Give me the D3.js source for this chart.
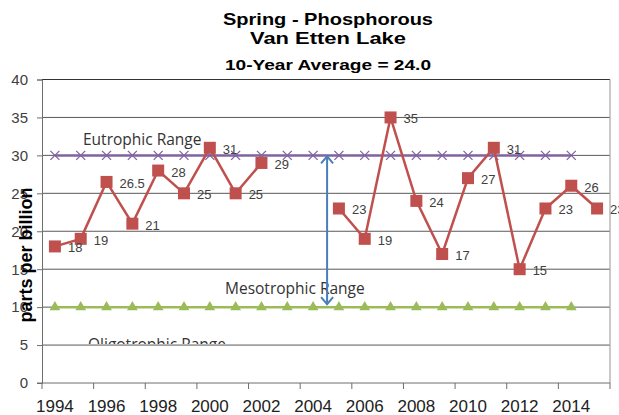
<!DOCTYPE html>
<html>
<head>
<meta charset="utf-8">
<script src="https://cdn.jsdelivr.net/npm/d3@7/dist/d3.min.js"></script>
<style>
  body { margin: 0; background: #fff; }
  svg text { font-family: Arial, "Liberation Sans", sans-serif; }
</style>
</head>
<body>
<svg id="chart" width="619" height="415"></svg>
<script>
// categories on the x axis
var years = d3.range(1994, 2016);
var tickYears = [1994, 1996, 1998, 2000, 2002, 2004, 2006, 2008, 2010, 2012, 2014];
var yTicks = [0, 5, 10, 15, 20, 25, 30, 35, 40];

// spring phosphorous readings (ppb), null = no sample
var phosYears = [1994, 1995, 1996, 1997, 1998, 1999, 2000, 2001, 2002, 2003, 2004,
                 2005, 2006, 2007, 2008, 2009, 2010, 2011, 2012, 2013, 2014, 2015];
var phosValues = [18, 19, 26.5, 21, 28, 25, 31, 25, 29, null, null,
                  23, 19, 35, 24, 17, 27, 31, 15, 23, 26, 23];

// trophic thresholds
var rangeYears = d3.range(1994, 2015);
var eutrophic = 30;
var mesotrophic = 10;

var titles = ["Spring - Phosphorous", "Van Etten Lake", "10-Year Average = 24.0"];

var svg = d3.select("#chart");
var plotLeft = 42, plotRight = 610, plotTop = 79.5, plotBottom = 383;

var x = d3.scaleBand().domain(years).range([plotLeft, plotRight]);
var y = d3.scaleLinear().domain([0, 40]).range([plotBottom, plotTop]);
var cx = function(d) { return x(d) + x.bandwidth() / 2; };

// titles (the original is a little stretched sideways)
svg.append("text").attr("x", 328).attr("y", 25).attr("text-anchor", "middle")
    .attr("textLength", 210).attr("lengthAdjust", "spacingAndGlyphs")
    .style("font-size", "17px").style("font-weight", "bold").text(titles[0]);
svg.append("text").attr("x", 328).attr("y", 44).attr("text-anchor", "middle")
    .attr("textLength", 156).attr("lengthAdjust", "spacingAndGlyphs")
    .style("font-size", "17px").style("font-weight", "bold").text(titles[1]);
svg.append("text").attr("x", 328).attr("y", 70).attr("text-anchor", "middle")
    .attr("textLength", 206).attr("lengthAdjust", "spacingAndGlyphs")
    .style("font-size", "15.5px").style("font-weight", "bold").text(titles[2]);

// gridlines
svg.append("g").selectAll("line")
    .data(yTicks.filter(function(d) { return d > 0; }))
    .enter().append("line")
    .attr("x1", plotLeft).attr("x2", plotRight)
    .attr("y1", function(d) { return y(d); }).attr("y2", function(d) { return y(d); })
    .attr("stroke", function(d) { return d == 40 ? "#333" : "#595959"; })
    .attr("stroke-width", 1);

// right border of plot area
svg.append("line").attr("x1", plotRight).attr("x2", plotRight).attr("y1", plotTop).attr("y2", plotBottom)
    .attr("stroke", "#a6a6a6").attr("stroke-width", 1.2);

// y axis
var yAxis = svg.append("g").attr("transform", "translate(" + plotLeft + ",0)")
    .call(d3.axisLeft(y).tickValues(yTicks).tickSize(5).tickPadding(9));
yAxis.select(".domain").attr("stroke", "#6e6e6e");
yAxis.selectAll(".tick line").attr("stroke", "#6e6e6e");
yAxis.selectAll("text").style("font-size", "15px").attr("fill", "#404040");

// x axis: ticks between every second category
var xAxis = svg.append("g");
xAxis.append("line").attr("x1", plotLeft - 5).attr("x2", plotRight).attr("y1", plotBottom).attr("y2", plotBottom)
    .attr("stroke", "#6e6e6e");
xAxis.selectAll(".xt").data(tickYears.concat([2016])).enter().append("line")
    .attr("class", "xt")
    .attr("x1", function(d) { return d == 2016 ? plotRight : x(d); })
    .attr("x2", function(d) { return d == 2016 ? plotRight : x(d); })
    .attr("y1", plotBottom).attr("y2", plotBottom + 6)
    .attr("stroke", "#6e6e6e");
xAxis.selectAll("text").data(tickYears).enter().append("text")
    .attr("x", cx).attr("y", 412).attr("text-anchor", "middle")
    .style("font-size", "17px").attr("fill", "#222")
    .text(function(d) { return d; });

// y axis title
svg.append("text")
    .attr("transform", "translate(32,255) rotate(-90)")
    .attr("text-anchor", "middle")
    .style("font-size", "18px").style("font-weight", "bold")
    .text("parts per billion");

// range labels
var rangeFont = "'Open Sans', 'DejaVu Sans', sans-serif";
svg.append("text").attr("x", 83).attr("y", 145).style("font-family", rangeFont)
    .style("font-size", "15.5px").attr("fill", "#333").text("Eutrophic Range");
svg.append("text").attr("x", 225).attr("y", 294).style("font-family", rangeFont)
    .style("font-size", "15.5px").attr("fill", "#333").text("Mesotrophic Range");
svg.append("clipPath").attr("id", "oligoClip").append("rect")
    .attr("x", 60).attr("y", 320).attr("width", 250).attr("height", y(5) - 320 - 1);
svg.append("text").attr("x", 88).attr("y", 350).style("font-family", rangeFont)
    .attr("clip-path", "url(#oligoClip)")
    .style("font-size", "15.5px").attr("fill", "#333").text("Oligotrophic Range");

// eutrophic line with x markers
var purple = "#8064a2";
svg.append("path").datum(rangeYears)
    .attr("d", d3.line().x(cx).y(y(eutrophic)))
    .attr("fill", "none").attr("stroke", purple).attr("stroke-width", 2.5);
svg.append("g").selectAll("path").data(rangeYears).enter().append("path")
    .attr("transform", function(d) { return "translate(" + cx(d) + "," + y(eutrophic) + ")"; })
    .attr("d", "M-4.5,-4.5L4.5,4.5M-4.5,4.5L4.5,-4.5")
    .attr("stroke", purple).attr("stroke-width", 1.3).attr("fill", "none");

// mesotrophic line with triangle markers
var green = "#9bbb59";
svg.append("path").datum(rangeYears)
    .attr("d", d3.line().x(cx).y(y(mesotrophic)))
    .attr("fill", "none").attr("stroke", green).attr("stroke-width", 2.5);
svg.append("g").selectAll("path").data(rangeYears).enter().append("path")
    .attr("transform", function(d) { return "translate(" + cx(d) + "," + y(mesotrophic) + ")"; })
    .attr("d", d3.symbol().type(d3.symbolTriangle).size(50))
    .attr("fill", green);

// blue double arrow between ranges
var blue = "#4a7ebb";
var ax = cx(2004) + 14;
var arrow = svg.append("g").attr("stroke", blue).attr("stroke-width", 2).attr("fill", "none");
arrow.append("line").attr("x1", ax).attr("x2", ax).attr("y1", y(eutrophic) + 1).attr("y2", y(mesotrophic) - 3);
arrow.append("path").attr("d", "M" + (ax - 6) + "," + (y(eutrophic) + 8) + "L" + ax + "," + (y(eutrophic) + 1) + "L" + (ax + 6) + "," + (y(eutrophic) + 8));
arrow.append("path").attr("d", "M" + (ax - 6) + "," + (y(mesotrophic) - 10) + "L" + ax + "," + (y(mesotrophic) - 3) + "L" + (ax + 6) + "," + (y(mesotrophic) - 10));

// phosphorous series
var red = "#c0504d";
var phos = phosYears.map(function(d, i) { return { year: d, value: phosValues[i] }; });
svg.append("path").datum(phos)
    .attr("d", d3.line().defined(function(d) { return d.value != null; })
        .x(function(d) { return cx(d.year); }).y(function(d) { return y(d.value); }))
    .attr("fill", "none").attr("stroke", red).attr("stroke-width", 2.5);
var pts = phos.filter(function(d) { return d.value != null; });
svg.append("g").selectAll("rect").data(pts).enter().append("rect")
    .attr("x", function(d) { return cx(d.year) - 6; })
    .attr("y", function(d) { return y(d.value) - 6; })
    .attr("width", 12).attr("height", 12).attr("fill", red);
svg.append("g").selectAll("text").data(pts).enter().append("text")
    .attr("x", function(d) { return cx(d.year) + 13; })
    .attr("y", function(d) { return y(d.value) + 6; })
    .style("font-size", "13px").attr("fill", "#404040")
    .text(function(d) { return d.value; });
</script>
</body>
</html>
